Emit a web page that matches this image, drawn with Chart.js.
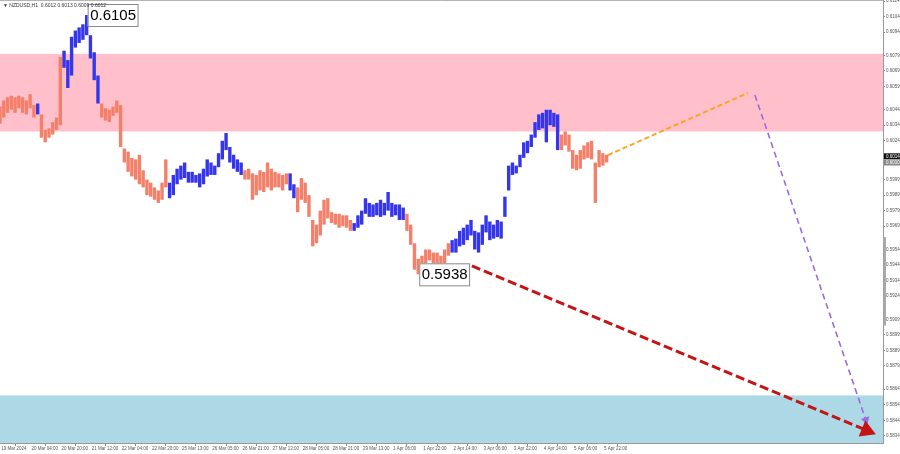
<!DOCTYPE html>
<html>
<head>
<meta charset="utf-8">
<title>NZDUSD H1</title>
<script src="https://cdn.jsdelivr.net/npm/chart.js@4.4.1/dist/chart.umd.min.js"></script>
<style>
  body { margin: 0; background: #fff; }
  #wrap { width: 900px; height: 454px; position: relative; }
</style>
</head>
<body>
<div id="wrap"><canvas id="priceChart"></canvas></div>
<script>
// NZDUSD H1, 19 Mar - 5 Apr 2024, bars

const highs = [
  0.6046, 0.6050, 0.6052, 0.6053, 0.6052, 0.6053, 0.6052, 0.6050, 0.6054, 0.6047,
  0.6048, 0.6041, 0.6031, 0.6032, 0.6036, 0.6039, 0.6078, 0.6082, 0.6076, 0.6091,
  0.6095, 0.6097, 0.6099, 0.6105, 0.6092, 0.6081, 0.6066, 0.6048, 0.6045, 0.6044,
  0.6046, 0.6050, 0.6047, 0.6019, 0.6017, 0.6013, 0.6012, 0.6015, 0.6005, 0.5999,
  0.5997, 0.5994, 0.5992, 0.5997, 0.6012, 0.5997, 0.6002, 0.6006, 0.6008, 0.6010,
  0.6004, 0.6004, 0.6002, 0.6003, 0.6006, 0.6012, 0.6010, 0.6008, 0.6016, 0.6024,
  0.6029, 0.6020, 0.6015, 0.6012, 0.6010, 0.6005, 0.6006, 0.6003, 0.6002, 0.6005,
  0.6004, 0.6010, 0.6006, 0.6004, 0.6003, 0.6002, 0.6003, 0.6003, 0.5996, 0.5994,
  0.6000, 0.5997, 0.5989, 0.5973, 0.5970, 0.5979, 0.5986, 0.5987, 0.5978, 0.5977,
  0.5977, 0.5976, 0.5976, 0.5973, 0.5971, 0.5976, 0.5979, 0.5987, 0.5984, 0.5983,
  0.5984, 0.5986, 0.5984, 0.5991, 0.5984, 0.5983, 0.5983, 0.5981, 0.5977, 0.5970,
  0.5958, 0.5948, 0.5950, 0.5954, 0.5954, 0.5952, 0.5952, 0.5950, 0.5954, 0.5958,
  0.5960, 0.5961, 0.5966, 0.5968, 0.5970, 0.5973, 0.5966, 0.5965, 0.5970, 0.5976,
  0.5972, 0.5970, 0.5973, 0.5972, 0.5988, 0.6008, 0.6010, 0.6008, 0.6015, 0.6023,
  0.6024, 0.6028, 0.6036, 0.6041, 0.6042, 0.6044, 0.6044, 0.6042, 0.6041, 0.6028,
  0.6030, 0.6028, 0.6018, 0.6015, 0.6018, 0.6021, 0.6023, 0.6024, 0.6010, 0.6018,
  0.6016, 0.6015
];

const lows = [
  0.6035, 0.6039, 0.6042, 0.6044, 0.6042, 0.6045, 0.6042, 0.6041, 0.6045, 0.6039,
  0.6041, 0.6026, 0.6023, 0.6026, 0.6028, 0.6031, 0.6034, 0.6071, 0.6058, 0.6066,
  0.6084, 0.6087, 0.6089, 0.6092, 0.6077, 0.6063, 0.6048, 0.6039, 0.6037, 0.6036,
  0.6040, 0.6042, 0.6020, 0.6010, 0.6004, 0.6001, 0.5999, 0.5996, 0.5994, 0.5989,
  0.5988, 0.5986, 0.5984, 0.5986, 0.5994, 0.5987, 0.5989, 0.5996, 0.5999, 0.6000,
  0.5997, 0.5997, 0.5997, 0.5994, 0.5996, 0.6001, 0.6002, 0.6002, 0.6007, 0.6012,
  0.6018, 0.6010, 0.6006, 0.6004, 0.6002, 0.5999, 0.5999, 0.5986, 0.5989, 0.5992,
  0.5991, 0.5994, 0.5992, 0.5994, 0.5994, 0.5992, 0.5996, 0.5992, 0.5987, 0.5978,
  0.5986, 0.5984, 0.5975, 0.5956, 0.5958, 0.5963, 0.5970, 0.5974, 0.5971, 0.5970,
  0.5968, 0.5969, 0.5968, 0.5966, 0.5966, 0.5968, 0.5970, 0.5977, 0.5975, 0.5975,
  0.5976, 0.5975, 0.5976, 0.5979, 0.5975, 0.5976, 0.5973, 0.5973, 0.5966, 0.5957,
  0.5941, 0.5938, 0.5942, 0.5945, 0.5947, 0.5944, 0.5943, 0.5942, 0.5944, 0.5950,
  0.5952, 0.5952, 0.5956, 0.5957, 0.5960, 0.5963, 0.5954, 0.5952, 0.5957, 0.5965,
  0.5960, 0.5961, 0.5962, 0.5961, 0.5975, 0.5992, 0.6002, 0.6003, 0.6007, 0.6013,
  0.6016, 0.6020, 0.6026, 0.6031, 0.6032, 0.6023, 0.6034, 0.6033, 0.6018, 0.6018,
  0.6021, 0.6017, 0.6006, 0.6005, 0.6006, 0.6012, 0.6013, 0.6012, 0.5984, 0.6007,
  0.6008, 0.6010
];

// hours since 19 Mar 00:00 for each bar
const barHours = highs.map((h, i) => i * 2);

// bar index where each wave starts (salmon / blue alternating)
const waveStarts = [0, 10, 11, 17, 27, 45, 65, 77, 79, 94, 108, 120, 149];

const tickHours = [0, 16, 32, 48, 64, 80, 96, 112, 128, 144, 160, 176, 192, 208, 224, 240, 256, 272, 288, 304, 320];
const tickLabels = [
  '19 Mar 2024', '20 Mar 04:00', '20 Mar 20:00', '21 Mar 12:00', '22 Mar 04:00', '22 Mar 20:00',
  '25 Mar 13:00', '26 Mar 05:00', '26 Mar 21:00', '27 Mar 13:00', '28 Mar 05:00', '28 Mar 21:00',
  '29 Mar 13:00', '1 Apr 06:00', '1 Apr 22:00', '2 Apr 14:00', '3 Apr 06:00', '3 Apr 22:00',
  '4 Apr 14:00', '5 Apr 06:00', '5 Apr 22:00'
];

const priceTicks = [
  0.6114, 0.6104, 0.6094, 0.6079, 0.6069, 0.6059, 0.6044, 0.6034, 0.6024, 0.5999,
  0.5989, 0.5979, 0.5969, 0.5954, 0.5944, 0.5934, 0.5924, 0.5909, 0.5899, 0.5889,
  0.5879, 0.5864, 0.5854, 0.5844, 0.5834
];

// zones: [bottom, top]
const resistanceZone = [0.6030, 0.6080];
const supportZone = [0.5800, 0.5860];

// forecast arrows, x in hours
const orangeX = [322.7, 397.0];
const orangeY = [0.60148, 0.60548];
const purpleX = [400.7, 459.6];
const purpleY = [0.60535, 0.58442];
const redX = [250.5, 460.0];
const redY = [0.59434, 0.58375];

// last bar O H L C shown in the header
const lastBar = [0.6012, 0.6013, 0.6009, 0.6012];
// price tags on the axis
const bidTag = 0.6014;
const askTag = 0.6010;

const FONT = "'Liberation Sans', Arial, sans-serif";
const SALMON = '#F5806A';
const BLUE = '#3535EE';

function waveColor(i) {
    let w = 0;
    for (let j = 0; j < waveStarts.length; j++) {
        if (i >= waveStarts[j]) w = j;
    }
    return w % 2 === 0 ? SALMON : BLUE;
}

function pts(xs, ys) {
    return xs.map((x, i) => ({x: x, y: ys[i]}));
}

const zonesPlugin = {
    id: 'zones',
    beforeDatasetsDraw(chart) {
        const {ctx, chartArea, scales} = chart;
        ctx.save();
        ctx.beginPath();
        ctx.rect(chartArea.left, chartArea.top, chartArea.right - chartArea.left, chartArea.bottom - chartArea.top);
        ctx.clip();
        const drawZone = (zone, color) => {
            const yTop = scales.y.getPixelForValue(zone[1]);
            const yBot = scales.y.getPixelForValue(zone[0]);
            ctx.fillStyle = color;
            ctx.fillRect(chartArea.left, yTop, chartArea.right - chartArea.left, yBot - yTop);
        };
        drawZone(resistanceZone, '#FFC0CB');
        drawZone(supportZone, '#ADD8E6');
        ctx.restore();
    }
};

const labelsPlugin = {
    id: 'labels',
    afterDatasetsDraw(chart) {
        const {ctx, chartArea, scales} = chart;
        ctx.save();
        // extreme price labels
        const marks = [
            {i: highs.indexOf(Math.max(...highs)), v: Math.max(...highs)},
            {i: lows.indexOf(Math.min(...lows)), v: Math.min(...lows)}
        ];
        ctx.font = '15px ' + FONT;
        ctx.textBaseline = 'middle';
        marks.forEach(m => {
            const x = scales.x.getPixelForValue(barHours[m.i]) + 1;
            const y = scales.y.getPixelForValue(m.v);
            const txt = m.v.toFixed(4);
            const w = ctx.measureText(txt).width + 4;
            ctx.fillStyle = '#fff';
            ctx.fillRect(x, y - 11, w, 22);
            ctx.strokeStyle = '#8a8a8a';
            ctx.lineWidth = 1;
            ctx.strokeRect(x + 0.5, y - 10.5, w, 22);
            ctx.fillStyle = '#000';
            ctx.textAlign = 'left';
            ctx.fillText(txt, x + 2.5, y + 1);
        });

        // header
        ctx.font = '5px ' + FONT;
        ctx.fillStyle = '#333';
        ctx.textBaseline = 'middle';
        ctx.fillText('\u25BC NZDUSD,H1  ' + lastBar.map(v => v.toFixed(4)).join(' '), 3, 6);

        // top frame line
        ctx.strokeStyle = '#b5b5b5';
        ctx.lineWidth = 1;
        ctx.beginPath();
        ctx.moveTo(chartArea.left, chartArea.top + 0.5);
        ctx.lineTo(chartArea.right, chartArea.top + 0.5);
        ctx.stroke();

        // axis price tags
        const tag = (v, bg) => {
            const y = scales.y.getPixelForValue(v);
            ctx.fillStyle = bg;
            ctx.fillRect(chartArea.right + 1, y - 3, 16, 6);
            ctx.fillStyle = '#fff';
            ctx.font = '4.5px ' + FONT;
            ctx.textAlign = 'left';
            ctx.fillText(v.toFixed(4), chartArea.right + 3, y + 0.3);
        };
        tag(bidTag, '#111');
        tag(askTag, '#8a8a8a');

        // scroll strip on the price axis
        const s1 = scales.y.getPixelForValue(0.5962);
        const s2 = scales.y.getPixelForValue(0.5905);
        ctx.fillStyle = '#aaa';
        ctx.fillRect(chartArea.right + 0.5, s1, 2.5, s2 - s1);
        ctx.restore();
    }
};

const ctx = document.getElementById('priceChart').getContext('2d');
new Chart(ctx, {
    data: {
        datasets: [
            {
                type: 'bar',
                data: highs.map((h, i) => ({x: barHours[i], y: [lows[i], h]})),
                backgroundColor: c => waveColor(c.dataIndex),
                borderWidth: 0,
                barPercentage: 0.9,
                categoryPercentage: 1,
                order: 2
            },
            {
                type: 'line',
                data: pts(orangeX, orangeY),
                borderColor: '#FFA319',
                borderWidth: 2,
                borderDash: [5, 3],
                pointRadius: 0,
                fill: false,
                order: 1
            },
            {
                type: 'line',
                data: pts(purpleX, purpleY),
                borderColor: '#9B6BE0',
                borderWidth: 1.6,
                borderDash: [6, 4],
                pointRadius: [0, 5],
                pointStyle: 'triangle',
                pointRotation: [0, 161],
                pointBackgroundColor: '#9B6BE0',
                pointBorderWidth: 0,
                fill: false,
                order: 1
            },
            {
                type: 'line',
                data: pts(redX, redY),
                borderColor: '#C41414',
                borderWidth: 3,
                borderDash: [9, 4],
                pointRadius: [0, 10],
                pointStyle: 'triangle',
                pointRotation: [0, 112.6],
                pointBackgroundColor: '#C41414',
                pointBorderWidth: 0,
                fill: false,
                order: 0
            }
        ]
    },
    options: {
        responsive: true,
        maintainAspectRatio: false,
        animation: false,
        layout: { padding: 0, autoPadding: false },
        plugins: {
            legend: { display: false },
            tooltip: { enabled: false }
        },
        scales: {
            x: {
                type: 'linear',
                offset: false,
                min: 0,
                max: 468.7,
                afterBuildTicks: s => { s.ticks = tickHours.map(v => ({value: v})); },
                afterFit: s => { s.height = 11; s.paddingLeft = 0; s.paddingRight = 0; },
                ticks: {
                    align: 'start',
                    padding: 0,
                    maxRotation: 0,
                    autoSkip: false,
                    color: '#555',
                    font: { size: 4.5, family: FONT },
                    callback: (v, i) => ' ' + tickLabels[i]
                },
                grid: { drawOnChartArea: false, tickLength: 3, color: '#888' },
                border: { color: '#999' }
            },
            y: {
                position: 'right',
                min: 0.582937,
                max: 0.611466,
                afterBuildTicks: s => { s.ticks = priceTicks.map(v => ({value: v})); },
                afterFit: s => { s.width = 17; s.paddingTop = 0; s.paddingBottom = 0; },
                ticks: {
                    padding: 1,
                    color: '#555',
                    font: { size: 4.5, family: FONT },
                    callback: v => v.toFixed(4)
                },
                grid: { drawOnChartArea: false, tickLength: 2, color: '#888' },
                border: { color: '#999' }
            }
        }
    },
    plugins: [zonesPlugin, labelsPlugin]
});
</script>
</body>
</html>
